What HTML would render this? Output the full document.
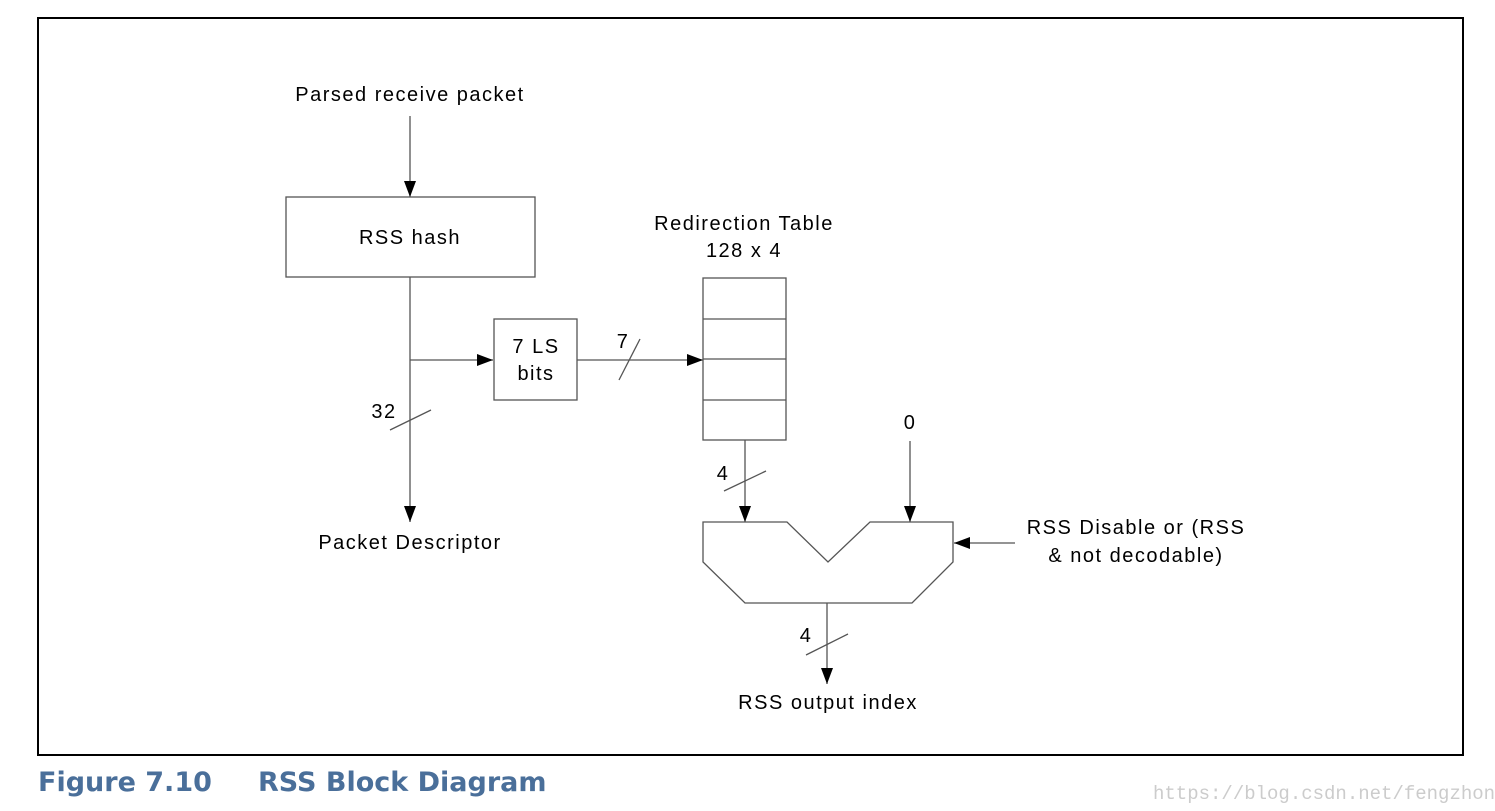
<!DOCTYPE html>
<html><head><meta charset="utf-8"><style>
html,body{margin:0;padding:0;background:#fff;}
svg{display:block;}
text{font-family:"Liberation Sans",Arial,sans-serif;font-size:20px;fill:#000;letter-spacing:1.5px;}
</style></head><body>
<svg width="1495" height="811" viewBox="0 0 1495 811" xmlns="http://www.w3.org/2000/svg">
<defs>
<marker id="a" markerWidth="16" markerHeight="12" refX="16" refY="6" orient="auto" markerUnits="userSpaceOnUse">
<path d="M0,0 L16,6 L0,12 Z" fill="#000"/></marker>
</defs>
<rect x="38" y="18" width="1425" height="737" fill="none" stroke="#000" stroke-width="2"/>
<g stroke="#555" stroke-width="1.3" fill="none">
<text x="410" y="101" text-anchor="middle" stroke="none">Parsed receive packet</text>
<line x1="410" y1="116" x2="410" y2="197" marker-end="url(#a)"/>
<rect x="286" y="197" width="249" height="80"/>
<text x="410" y="244" text-anchor="middle" stroke="none">RSS hash</text>
<line x1="410" y1="277" x2="410" y2="522" marker-end="url(#a)"/>
<line x1="410" y1="360" x2="493" y2="360" marker-end="url(#a)"/>
<line x1="390" y1="430" x2="431" y2="410"/>
<text x="384" y="418" text-anchor="middle" stroke="none">32</text>
<text x="410" y="549" text-anchor="middle" stroke="none">Packet Descriptor</text>
<rect x="494" y="319" width="83" height="81"/>
<text x="536" y="353" text-anchor="middle" stroke="none">7 LS</text>
<text x="536" y="380" text-anchor="middle" stroke="none">bits</text>
<line x1="577" y1="360" x2="703" y2="360" marker-end="url(#a)"/>
<line x1="619" y1="380" x2="640" y2="339"/>
<text x="623" y="348" text-anchor="middle" stroke="none">7</text>
<text x="744" y="230" text-anchor="middle" stroke="none">Redirection Table</text>
<text x="744" y="257" text-anchor="middle" stroke="none">128 x 4</text>
<rect x="703" y="278" width="83" height="162"/>
<line x1="703" y1="319" x2="786" y2="319"/>
<line x1="703" y1="359" x2="786" y2="359"/>
<line x1="703" y1="400" x2="786" y2="400"/>
<line x1="745" y1="440" x2="745" y2="522" marker-end="url(#a)"/>
<line x1="724" y1="491" x2="766" y2="471"/>
<text x="723" y="480" text-anchor="middle" stroke="none">4</text>
<text x="910" y="429" text-anchor="middle" stroke="none">0</text>
<line x1="910" y1="441" x2="910" y2="522" marker-end="url(#a)"/>
<path d="M703,522 L787,522 L828,562 L870,522 L953,522 L953,562 L912,603 L745,603 L703,562 Z"/>
<line x1="1015" y1="543" x2="954" y2="543" marker-end="url(#a)"/>
<text x="1136" y="534" text-anchor="middle" stroke="none">RSS Disable or (RSS</text>
<text x="1136" y="562" text-anchor="middle" stroke="none">&amp; not decodable)</text>
<line x1="827" y1="603" x2="827" y2="684" marker-end="url(#a)"/>
<line x1="806" y1="655" x2="848" y2="634"/>
<text x="806" y="642" text-anchor="middle" stroke="none">4</text>
<text x="828" y="709" text-anchor="middle" stroke="none">RSS output index</text>
</g>
<text x="38" y="791" style="font-family:'DejaVu Sans',sans-serif;font-weight:bold;font-size:27px;fill:#4a6f9a;letter-spacing:0;">Figure 7.10</text>
<text x="258" y="791" style="font-family:'DejaVu Sans',sans-serif;font-weight:bold;font-size:27px;fill:#4a6f9a;letter-spacing:0;">RSS Block Diagram</text>
<text x="1153" y="799" style="font-family:'Liberation Mono',monospace;font-size:19px;fill:#ccc;letter-spacing:0;">https://blog.csdn.net/fengzhongche</text>
</svg>
</body></html>
